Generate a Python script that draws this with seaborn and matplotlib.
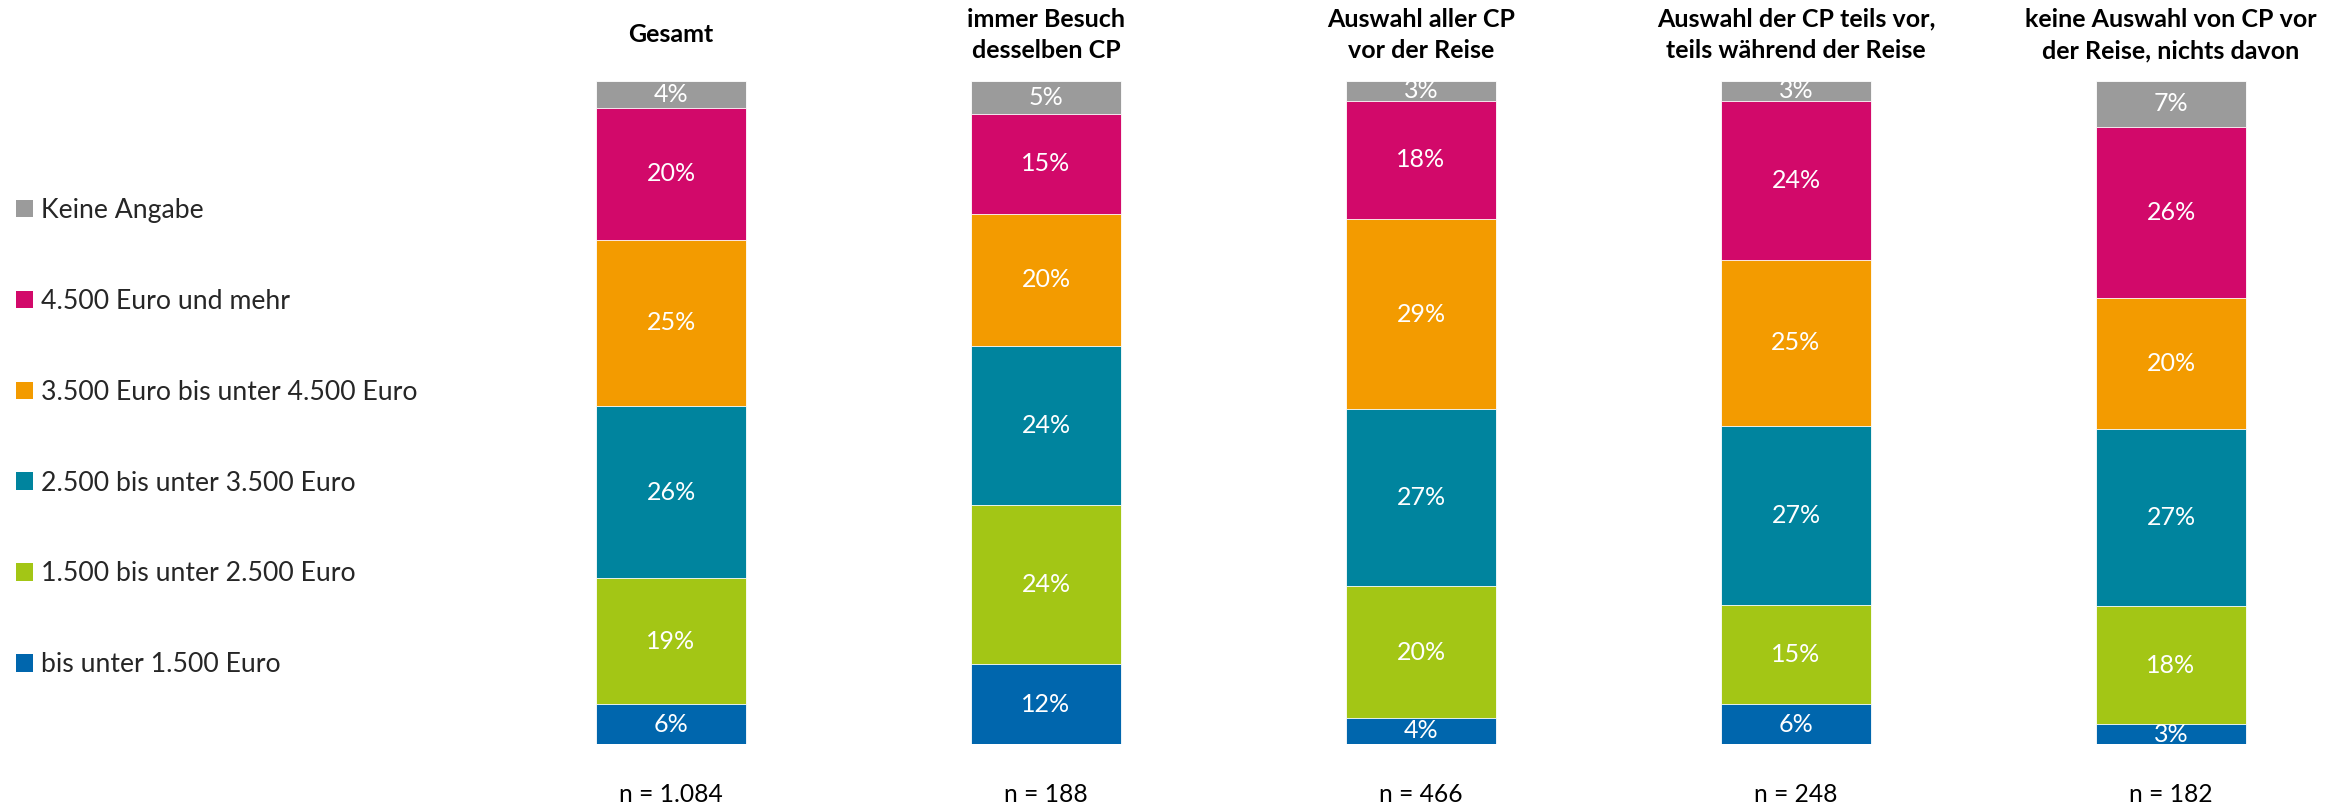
import matplotlib
matplotlib.use("Agg")
import matplotlib.pyplot as plt
from matplotlib.patches import Patch
import numpy as np
import seaborn as sns

# Column headings and sample sizes
groups = [
    "Gesamt",
    "immer Besuch\ndesselben CP",
    "Auswahl aller CP\nvor der Reise",
    "Auswahl der CP teils vor,\nteils während der Reise",
    "keine Auswahl von CP vor\nder Reise, nichts davon",
]
sample_sizes = ["n = 1.084", "n = 188", "n = 466", "n = 248", "n = 182"]

# Income bands, bottom to top of each stack
categories = [
    "bis unter 1.500 Euro",
    "1.500 bis unter 2.500 Euro",
    "2.500 bis unter 3.500 Euro",
    "3.500 Euro bis unter 4.500 Euro",
    "4.500 Euro und mehr",
    "Keine Angabe",
]
bis_1500 = [6, 12, 4, 6, 3]
von_1500_bis_2500 = [19, 24, 20, 15, 18]
von_2500_bis_3500 = [26, 24, 27, 27, 27]
von_3500_bis_4500 = [25, 20, 29, 25, 20]
ab_4500 = [20, 15, 18, 24, 26]
keine_angabe = [4, 5, 3, 3, 7]

colors = ["#0066AD", "#A3C615", "#00849E", "#F39B00", "#D2096A", "#9B9B9B"]

sns.set_theme(style="white")
plt.rcParams["font.family"] = ["Lato", "DejaVu Sans"]

W, H = 2338, 806
fig = plt.figure(figsize=(W / 100, H / 100), dpi=100)

# Axes placed so that each column is 375 px apart and 100 % spans 663 px
bar_bottom_px, bar_top_px = 744, 81
first_center_px, step_px = 671, 375
xlim = (-0.4, 4.4)
ax_left_px = first_center_px - (0 - xlim[0]) * step_px
ax_width_px = (xlim[1] - xlim[0]) * step_px
ax = fig.add_axes([ax_left_px / W, (H - bar_bottom_px) / H,
                   ax_width_px / W, (bar_bottom_px - bar_top_px) / H])

series = [bis_1500, von_1500_bis_2500, von_2500_bis_3500,
          von_3500_bis_4500, ab_4500, keine_angabe]
values = np.array(series, dtype=float)           # rows: categories, cols: groups
shares = values / values.sum(axis=0) * 100        # 100 % stacked
cum = np.cumsum(shares, axis=0)

# Stack by drawing cumulative totals from the top band downwards
for i in range(len(categories) - 1, -1, -1):
    sns.barplot(x=groups, y=cum[i], order=groups, color=colors[i],
                saturation=1, width=0.4, edgecolor="white", linewidth=0.6, ax=ax)

# Percentage labels inside the segments
for j in range(len(groups)):
    for i in range(len(categories)):
        mid = cum[i, j] - shares[i, j] / 2
        ax.text(j, mid, f"{int(values[i, j])}%", ha="center", va="center",
                color="white", fontsize=18)

px_per_unit = (bar_bottom_px - bar_top_px) / 100
for j, (g, n) in enumerate(zip(groups, sample_sizes)):
    ax.text(j, 100 + (bar_top_px - 35) / px_per_unit, g, ha="center", va="center",
            fontsize=18, fontweight="bold", color="black", linespacing=1.45,
            clip_on=False)
    ax.text(j, -(795 - bar_bottom_px) / px_per_unit, n, ha="center", va="center",
            fontsize=17.7, color="black", clip_on=False)

ax.set_xlim(*xlim)
ax.set_ylim(0, 100)
ax.set_xticks([])
ax.set_yticks([])
ax.set_xlabel("")
ax.set_ylabel("")
sns.despine(ax=ax, left=True, bottom=True)

# Legend: top band first
handles = [Patch(facecolor=colors[i], edgecolor="none") for i in range(len(categories) - 1, -1, -1)]
labels = [categories[i] for i in range(len(categories) - 1, -1, -1)]
fs = 19.2
fig.legend(handles, labels, loc="upper left",
           bbox_to_anchor=(16 / W, (H - 198) / H),
           frameon=False, fontsize=fs, borderpad=0, borderaxespad=0,
           handlelength=0.64, handleheight=0.64, handletextpad=0.28,
           labelspacing=2.47)

fig.savefig("out.png", dpi=100)
